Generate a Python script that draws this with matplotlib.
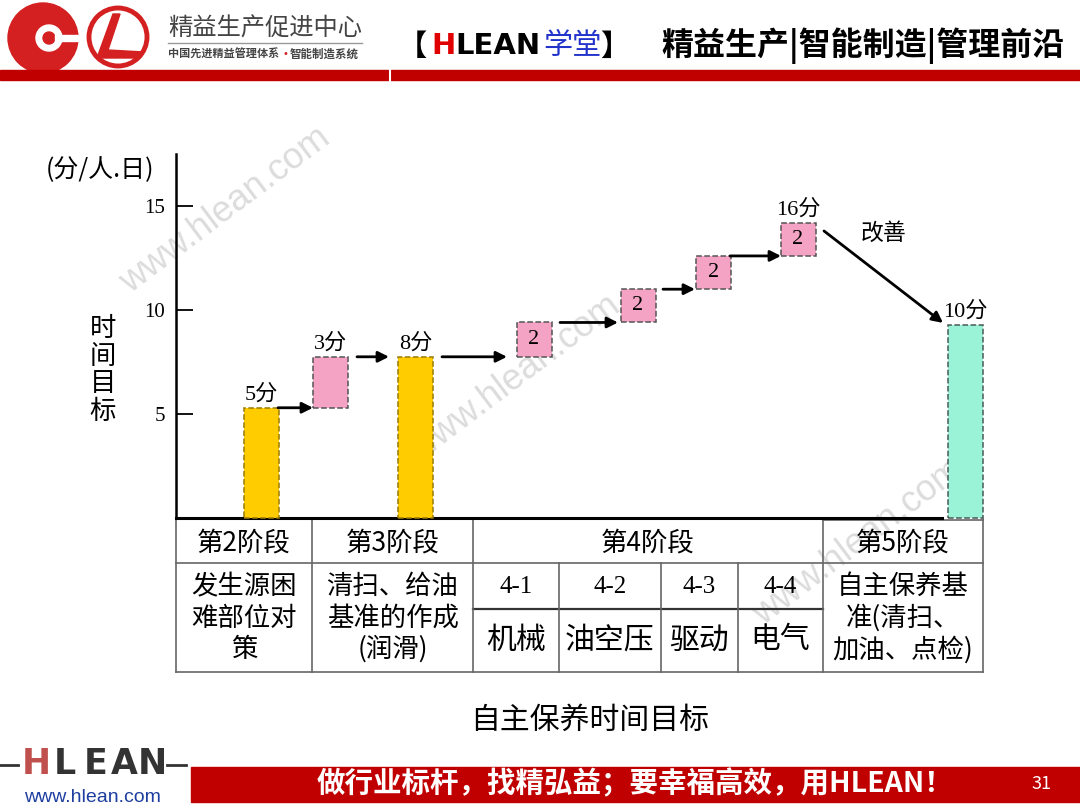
import numpy as np
import matplotlib.pyplot as plt
from matplotlib.patches import Rectangle, Circle, Polygon

plt.rcParams['font.family'] = ['Noto Sans CJK SC', 'DejaVu Sans']
SERIF = ['Liberation Serif', 'Noto Sans CJK SC']

# values, in axis units (分/人.日)
step_base = [0, 5.3, 0, 7.75, 9.4, 11.0, 12.6, 0]
step_top = [5.3, 7.75, 7.75, 9.4, 11.0, 12.6, 14.2, 9.3]
step_kind = ['stage', 'add', 'stage', 'add', 'add', 'add', 'add', 'goal']
top_labels = ['5分', '3分', '8分', '', '', '', '16分', '10分']
inside_labels = ['', '', '', '2', '2', '2', '2', '']
y_ticks = [5, 10, 15]

stages = ['第2阶段', '第3阶段', '第4阶段', '第5阶段']
stage_desc = ['发生源困\n难部位对\n策', '清扫、给油\n基准的作成\n(润滑)', '',
              '自主保养基\n准(清扫、\n加油、点检)']
sub_codes = ['4-1', '4-2', '4-3', '4-4']
sub_names = ['机械', '油空压', '驱动', '电气']

# layout (pixel positions on the 1080x810 slide)
bar_x = [261, 330.5, 415.5, 534, 638, 713.5, 798, 965]
bar_w = 35
arrow_x = [(278, 313), (357, 389), (442, 507), (560, 618), (663, 695), (730, 781)]
stage_edges = [176, 312, 473, 823, 983]
sub_edges = [473, 559, 661, 738, 823]
face = {'stage': '#FFCC00', 'add': '#F4A3C4', 'goal': '#9AF3D6'}
edge = {'stage': '#9a7a00', 'add': '#555555', 'goal': '#4a5a55'}

fig = plt.figure(figsize=(10.8, 8.1), dpi=100)

# slide background in pixel coords
bg = fig.add_axes([0, 0, 1, 1])
bg.set_xlim(0, 1080)
bg.set_ylim(810, 0)
bg.axis('off')

# watermarks
for wx, wy in [(225, 210), (515, 378), (858, 542)]:
    bg.text(wx, wy, 'www.hlean.com', rotation=37, fontsize=26, color='#dcdcdc',
            family='Liberation Sans', ha='center', va='center', zorder=0)

# header
bg.add_patch(Circle((43, 38), 35, color='#D42020'))
bg.add_patch(Circle((49, 38), 13, color='white'))
bg.add_patch(Circle((49, 38), 6, color='#D42020'))
bg.add_patch(Rectangle((55, 35), 30, 6, color='white'))
bg.add_patch(Circle((118, 37), 29, fill=False, edgecolor='#D42020', lw=3.5))
bg.add_patch(Polygon([(113, 14), (120, 14), (108, 50), (144, 52), (140, 58), (97, 58)],
                     closed=True, color='#D42020'))
bg.text(168, 29, '精益生产促进中心', fontsize=17.5, color='#444444', va='center')
bg.plot([168, 362], [43, 43], color='#999999', lw=1)
bg.text(168, 54, '中国先进精益管理体系', fontsize=8, color='#444444', va='center',
        fontweight='bold')
bg.text(285, 54, '•', fontsize=7, color='#D42020', va='center', ha='center',
        family='DejaVu Sans')
bg.text(290, 54, '智能制造系统', fontsize=8.3, color='#444444', va='center',
        fontweight='bold')
bg.text(398, 46, '【', fontsize=21, fontweight='bold', va='center')
bg.text(431, 46, 'H', fontsize=21, fontweight='bold', va='center', color='#E00000',
        family='DejaVu Sans')
bg.text(455, 46, 'LEAN', fontsize=21, fontweight='bold', va='center', family='DejaVu Sans')
bg.text(543, 46, '学堂', fontsize=21, va='center', color='#2233CC')
bg.text(600, 46, '】', fontsize=21, fontweight='bold', va='center')
bg.text(863, 46, '精益生产|智能制造|管理前沿', fontsize=23, fontweight='bold',
        ha='center', va='center')
bg.add_patch(Rectangle((0, 70), 1080, 10, color='#C00000'))
bg.plot([390, 390], [69, 81], color='white', lw=1.5)

# y-axis titles
bg.text(100, 170, '(分/人.日)', fontsize=18, ha='center', va='center')
bg.text(103, 370, '时\n间\n目\n标', fontsize=19, ha='center', va='center',
        linespacing=1.02)

# table
lc = '#666666'
bg.plot([823, 983], [520, 520], color=lc, lw=1.2)
for yy in [563, 672]:
    bg.plot([176, 983], [yy, yy], color=lc, lw=1.2)
bg.plot([473, 823], [609, 609], color='#333333', lw=1.6)
for xx in stage_edges:
    bg.plot([xx, xx], [519, 672], color=lc, lw=1.2)
for xx in sub_edges[1:-1]:
    bg.plot([xx, xx], [563, 672], color=lc, lw=1.2)
for i, s in enumerate(stages):
    cx = (stage_edges[i] + stage_edges[i + 1]) / 2
    bg.text(cx, 543, s, fontsize=19, ha='center', va='center')
    if stage_desc[i]:
        bg.text(cx, 618, stage_desc[i], fontsize=19, ha='center', va='center',
                linespacing=1.2)
for i in range(4):
    cx = (sub_edges[i] + sub_edges[i + 1]) / 2
    bg.text(cx, 587, sub_codes[i], fontsize=18, family=SERIF, ha='center', va='center')
    bg.text(cx, 640, sub_names[i], fontsize=21.5, ha='center', va='center')

bg.text(590, 720, '自主保养时间目标', fontsize=21.5, ha='center', va='center')

# footer
for ch, cx, col in zip('HLEAN', [36, 65, 96, 124, 152],
                       ['#C0504D', '#333333', '#333333', '#333333', '#333333']):
    bg.text(cx, 764, ch, fontsize=25, fontweight='bold', color=col, ha='center',
            va='center', family='DejaVu Sans')
bg.plot([0, 18], [765, 765], color='#333333', lw=2)
bg.plot([167, 186], [765, 765], color='#333333', lw=2)
bg.text(92, 798, 'www.hlean.com', fontsize=14, color='#1F3FA0', ha='center',
        va='center', family='Liberation Sans')
bg.add_patch(Rectangle((191, 767), 889, 35, color='#C00000'))
bg.text(635, 784, '做行业标杆，找精弘益；要幸福高效，用HLEAN！', fontsize=20.5,
        fontweight='bold', color='white', ha='center', va='center')
bg.text(1042, 784, '31', fontsize=13, color='white', ha='center', va='center')

# chart
ax = fig.add_axes([176 / 1080, (810 - 518) / 810, 766 / 1080, 364 / 810])
ax.patch.set_alpha(0)
ax.set_xlim(176, 942)
ax.set_ylim(0, 17.5)
for sp in ['top', 'right']:
    ax.spines[sp].set_visible(False)
ax.spines['left'].set_linewidth(1.8)
ax.spines['bottom'].set_linewidth(2.2)
ax.set_xticks([])
ax.set_yticks(y_ticks)
ax.tick_params(axis='y', direction='in', length=12, width=1.3, labelsize=15, pad=8)
for lab in ax.get_yticklabels():
    lab.set_fontfamily(SERIF)

for i in range(len(step_top)):
    k = step_kind[i]
    ax.bar(bar_x[i], step_top[i] - step_base[i], bottom=step_base[i], width=bar_w,
           color=face[k], edgecolor=edge[k], linestyle='--', linewidth=1.1,
           clip_on=False, zorder=3)
    if top_labels[i]:
        ax.annotate(top_labels[i], (bar_x[i], step_top[i]), xytext=(0, 2),
                    textcoords='offset points', ha='center', va='bottom',
                    fontsize=16, family=SERIF, annotation_clip=False)
    if inside_labels[i]:
        ax.text(bar_x[i], (step_base[i] + step_top[i]) / 2, inside_labels[i],
                fontsize=16, family=SERIF, ha='center', va='center', zorder=4)

aprops = dict(arrowstyle='-|>', lw=2, color='black', mutation_scale=16,
              shrinkA=0, shrinkB=0)
for i, (x0, x1) in enumerate(arrow_x):
    ax.annotate('', xy=(x1, step_top[i]), xytext=(x0, step_top[i]),
                arrowprops=aprops, annotation_clip=False)
ax.annotate('', xy=(943, step_top[7] + 0.08), xytext=(824, step_top[6] - 0.4),
            arrowprops=aprops, annotation_clip=False)
ax.text(884, 13.7, '改善', fontsize=16.5, ha='center', va='center')

fig.savefig('out.png', dpi=100)
